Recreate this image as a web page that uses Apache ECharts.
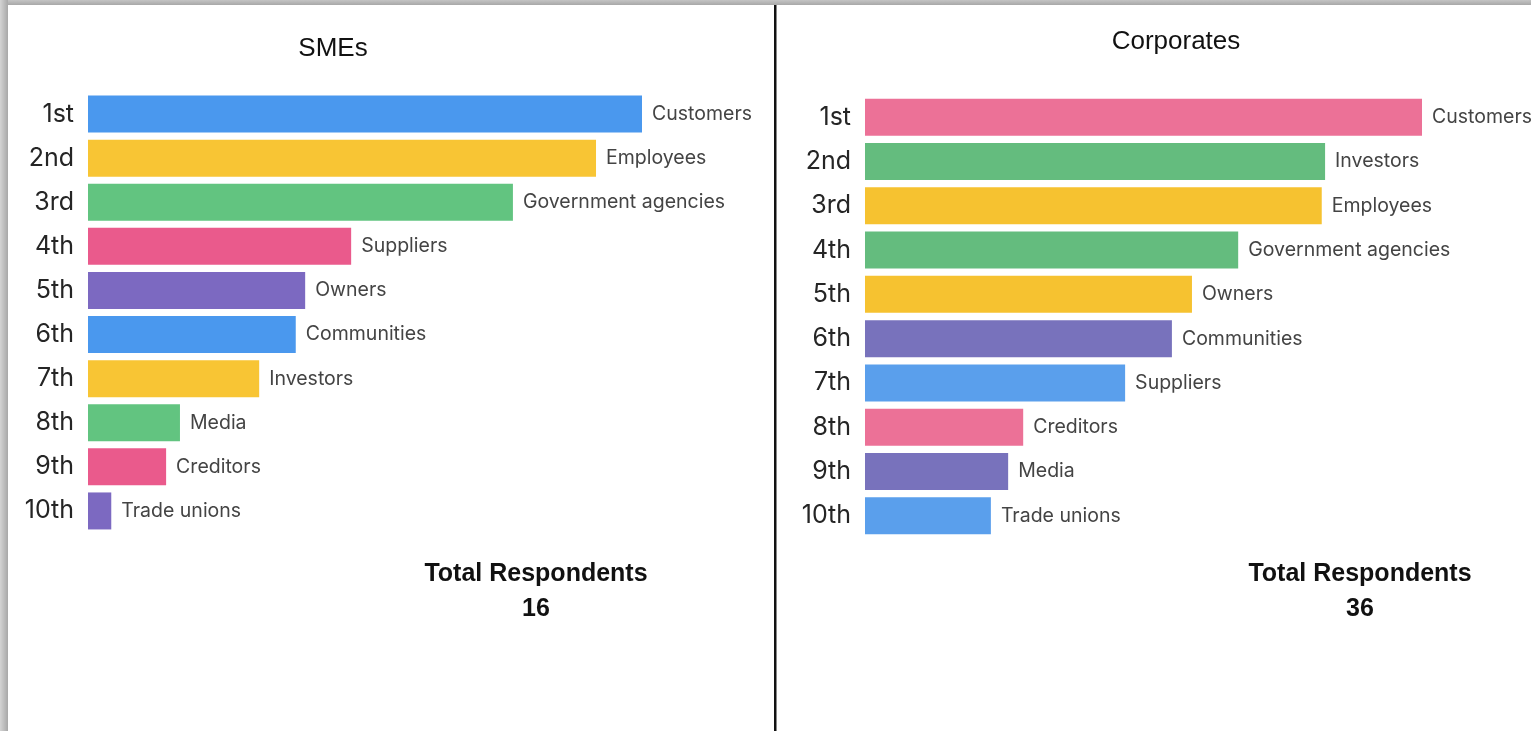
<!DOCTYPE html>
<html>
<head>
<meta charset="utf-8">
<script src="https://cdn.jsdelivr.net/npm/echarts@6/dist/echarts.min.js"></script>
<style>
html,body{margin:0;padding:0;background:#fff;}
#c{width:1531px;height:731px;}
</style>
</head>
<body>
<div id="c"></div>
<script>
// ---- data ----
const ranks = ['1st','2nd','3rd','4th','5th','6th','7th','8th','9th','10th'];
const smeNames = ['Customers','Employees','Government agencies','Suppliers','Owners','Communities','Investors','Media','Creditors','Trade unions'];
const smeValues = [100, 91.7, 76.7, 47.5, 39.2, 37.5, 30.9, 16.6, 14.1, 4.2];
const corpNames = ['Customers','Investors','Employees','Government agencies','Owners','Communities','Suppliers','Creditors','Media','Trade unions'];
const corpValues = [100, 82.6, 82.0, 67.0, 58.7, 55.1, 46.7, 28.4, 25.7, 22.6];
const smeTotal = 16;
const corpTotal = 36;

// ---- styles ----
const smeColors = ['#4a98ee','#f8c534','#62c480','#ea5a8c','#7c69c1','#4a98ee','#f8c534','#62c480','#ea5a8c','#7c69c1'];
const corpColors = ['#ec7197','#64bc7e','#f6c230','#64bc7e','#f6c230','#7872bc','#5a9fec','#ec7197','#7872bc','#5a9fec'];

const chart = echarts.init(document.getElementById('c'), null, {renderer:'canvas'});

function yAxisCfg(gi){
  return {
    type:'category', gridIndex:gi, data:ranks, inverse:true,
    axisLine:{show:false}, axisTick:{show:false}, splitLine:{show:false},
    axisLabel:{color:'#252525', fontSize:25, fontFamily:'Inter, Roboto, sans-serif', margin:14}
  };
}
function xAxisCfg(gi){
  return {type:'value', gridIndex:gi, min:0, max:100, show:false, splitLine:{show:false}};
}
function seriesCfg(gi, vals, names, colors){
  return {
    type:'bar', xAxisIndex:gi, yAxisIndex:gi, barWidth:37, animation:false,
    data: vals.map((v,i)=>({value:v, itemStyle:{color:colors[i]}})),
    label:{show:true, position:'right', distance:10, color:'#444', fontSize:19.5,
      fontFamily:'Inter, Roboto, sans-serif',
      formatter:(p)=>names[p.dataIndex]}
  };
}

const bold = 'bold 25px "Liberation Sans", Arial, sans-serif';
const reg = '26px "Liberation Sans", Arial, sans-serif';
chart.setOption({
  animation:false,
  grid:[
    {left:88, top:92, width:554, height:441},
    {left:865, top:95, width:557, height:443}
  ],
  xAxis:[xAxisCfg(0), xAxisCfg(1)],
  yAxis:[yAxisCfg(0), yAxisCfg(1)],
  series:[seriesCfg(0, smeValues, smeNames, smeColors), seriesCfg(1, corpValues, corpNames, corpColors)],
  graphic:[
    {type:'rect', shape:{x:0,y:0,width:1531,height:5}, style:{fill:new echarts.graphic.LinearGradient(0,0,0,1,[{offset:0,color:'#c4c4c4'},{offset:1,color:'#a8a8a8'}])}, silent:true},
    {type:'rect', shape:{x:0,y:0,width:8,height:731}, style:{fill:new echarts.graphic.LinearGradient(0,0,1,0,[{offset:0,color:'#d4d4d4'},{offset:1,color:'#a8a8a8'}])}, silent:true},
    {type:'rect', shape:{x:774,y:5,width:2.5,height:726}, style:{fill:'#111'}, silent:true},
    {type:'text', x:333, y:49, style:{text:'SMEs', font:reg, fill:'#111', textAlign:'center', textVerticalAlign:'middle'}},
    {type:'text', x:1176, y:42, style:{text:'Corporates', font:reg, fill:'#111', textAlign:'center', textVerticalAlign:'middle'}},
    {type:'text', x:536, y:574, style:{text:'Total Respondents', font:bold, fill:'#111', textAlign:'center', textVerticalAlign:'middle'}},
    {type:'text', x:536, y:609, style:{text:String(smeTotal), font:bold, fill:'#111', textAlign:'center', textVerticalAlign:'middle'}},
    {type:'text', x:1360, y:574, style:{text:'Total Respondents', font:bold, fill:'#111', textAlign:'center', textVerticalAlign:'middle'}},
    {type:'text', x:1360, y:609, style:{text:String(corpTotal), font:bold, fill:'#111', textAlign:'center', textVerticalAlign:'middle'}}
  ]
});
</script>
</body>
</html>
